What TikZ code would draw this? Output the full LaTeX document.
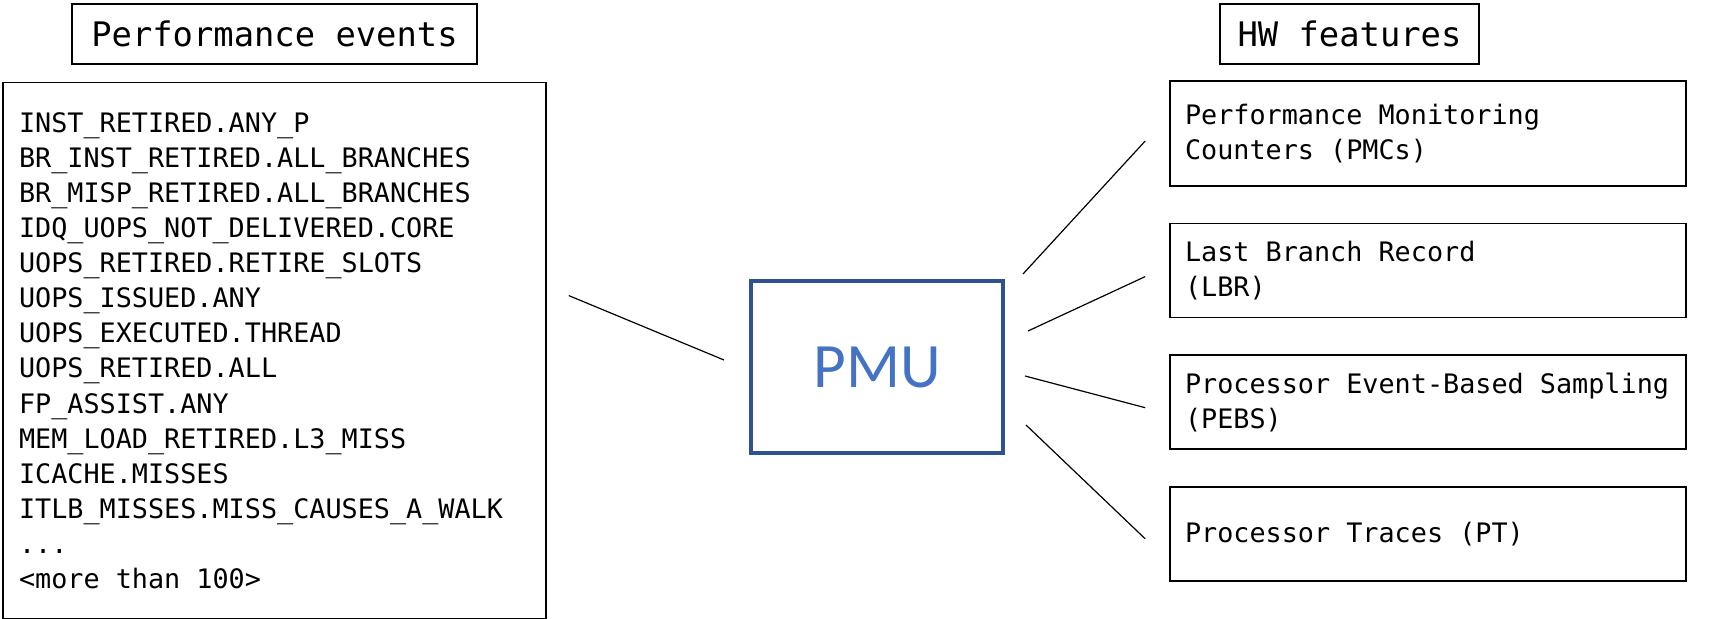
\documentclass[tikz,border=0pt]{standalone}
\usepackage{fontspec}
\setmonofont{DejaVu Sans Mono}
\newfontfamily\pmufont{Carlito}
\usetikzlibrary{positioning}
\definecolor{pmuborder}{HTML}{2F528F}
\definecolor{pmutext}{HTML}{4472C4}

\begin{document}
\begin{tikzpicture}[%
        x=1pt, y=1pt,
        every node/.style={rectangle, draw, line width=0.8pt, inner sep=0pt, execute at begin node={\spaceskip=0pt\xspaceskip=0pt}},
        titlebox/.style={minimum width=202.5pt, minimum height=30pt, font=\ttfamily\fontsize{16.9}{20}\selectfont},
        eventsbox/.style={minimum height=268pt, text width=255.5pt, inner xsep=8pt, align=left, font=\ttfamily\fontsize{13.4}{17.55}\selectfont},
        featurebox/.style={minimum height=47pt, text width=243pt, inner xsep=7.5pt, align=left, font=\ttfamily\fontsize{13.4}{17.4}\selectfont},
        pmubox/.style={minimum width=126pt, minimum height=86pt, line width=2pt, draw=pmuborder, text=pmutext, font=\pmufont\fontsize{31.6}{36}\selectfont},
        link/.style={line width=0.6pt},
        node distance=18pt
      ]
      \useasboundingbox (0,0) rectangle (859.5,-309.5);
      % left side: the events
      \node (evtitle) [titlebox] at (137.25,-17) {Performance events};
      \node (events) [eventsbox, below=8.5pt of evtitle] {INST\_RETIRED.ANY\_P\\
        BR\_INST\_RETIRED.ALL\_BRANCHES\\
        BR\_MISP\_RETIRED.ALL\_BRANCHES\\
        IDQ\_UOPS\_NOT\_DELIVERED.CORE\\
        UOPS\_RETIRED.RETIRE\_SLOTS\\
        UOPS\_ISSUED.ANY\\
        UOPS\_EXECUTED.THREAD\\
        UOPS\_RETIRED.ALL\\
        FP\_ASSIST.ANY\\
        MEM\_LOAD\_RETIRED.L3\_MISS\\
        ICACHE.MISSES\\
        ITLB\_MISSES.MISS\_CAUSES\_A\_WALK\\
        ...\\
        \textless more than 100\textgreater};
      % middle
      \node (pmu) [pmubox] at (438.5,-183.5) {PMU};
      % right side: the hardware features
      \node (hwtitle) [titlebox, minimum width=129.5pt] at (674.75,-17) {HW features};
      \node (pmc) [featurebox, minimum height=52.5pt] at (714,-66.75) {Performance Monitoring\\Counters (PMCs)};
      \node (lbr) [featurebox, below=of pmc] {Last Branch Record\\(LBR)};
      \node (pebs) [featurebox, below=of lbr] {Processor Event-Based Sampling\\(PEBS)};
      \node (pt) [featurebox, below=of pebs] {Processor Traces (PT)};
      \draw [link] ([xshift=11pt,yshift=27.5pt]events.east) -- ([xshift=-12.5pt,yshift=3.5pt]pmu.west);
      \draw [link] ([xshift=9pt,yshift=46.5pt]pmu.east) -- ([xshift=-12pt,yshift=-3.75pt]pmc.west);
      \draw [link] ([xshift=11.5pt,yshift=18pt]pmu.east) -- ([xshift=-12pt,yshift=-3pt]lbr.west);
      \draw [link] ([xshift=10pt,yshift=-4.5pt]pmu.east) -- ([xshift=-12pt,yshift=-2.75pt]pebs.west);
      \draw [link] ([xshift=10.5pt,yshift=-29pt]pmu.east) -- ([xshift=-12pt,yshift=-2.5pt]pt.west);
    \end{tikzpicture}
\end{document}
